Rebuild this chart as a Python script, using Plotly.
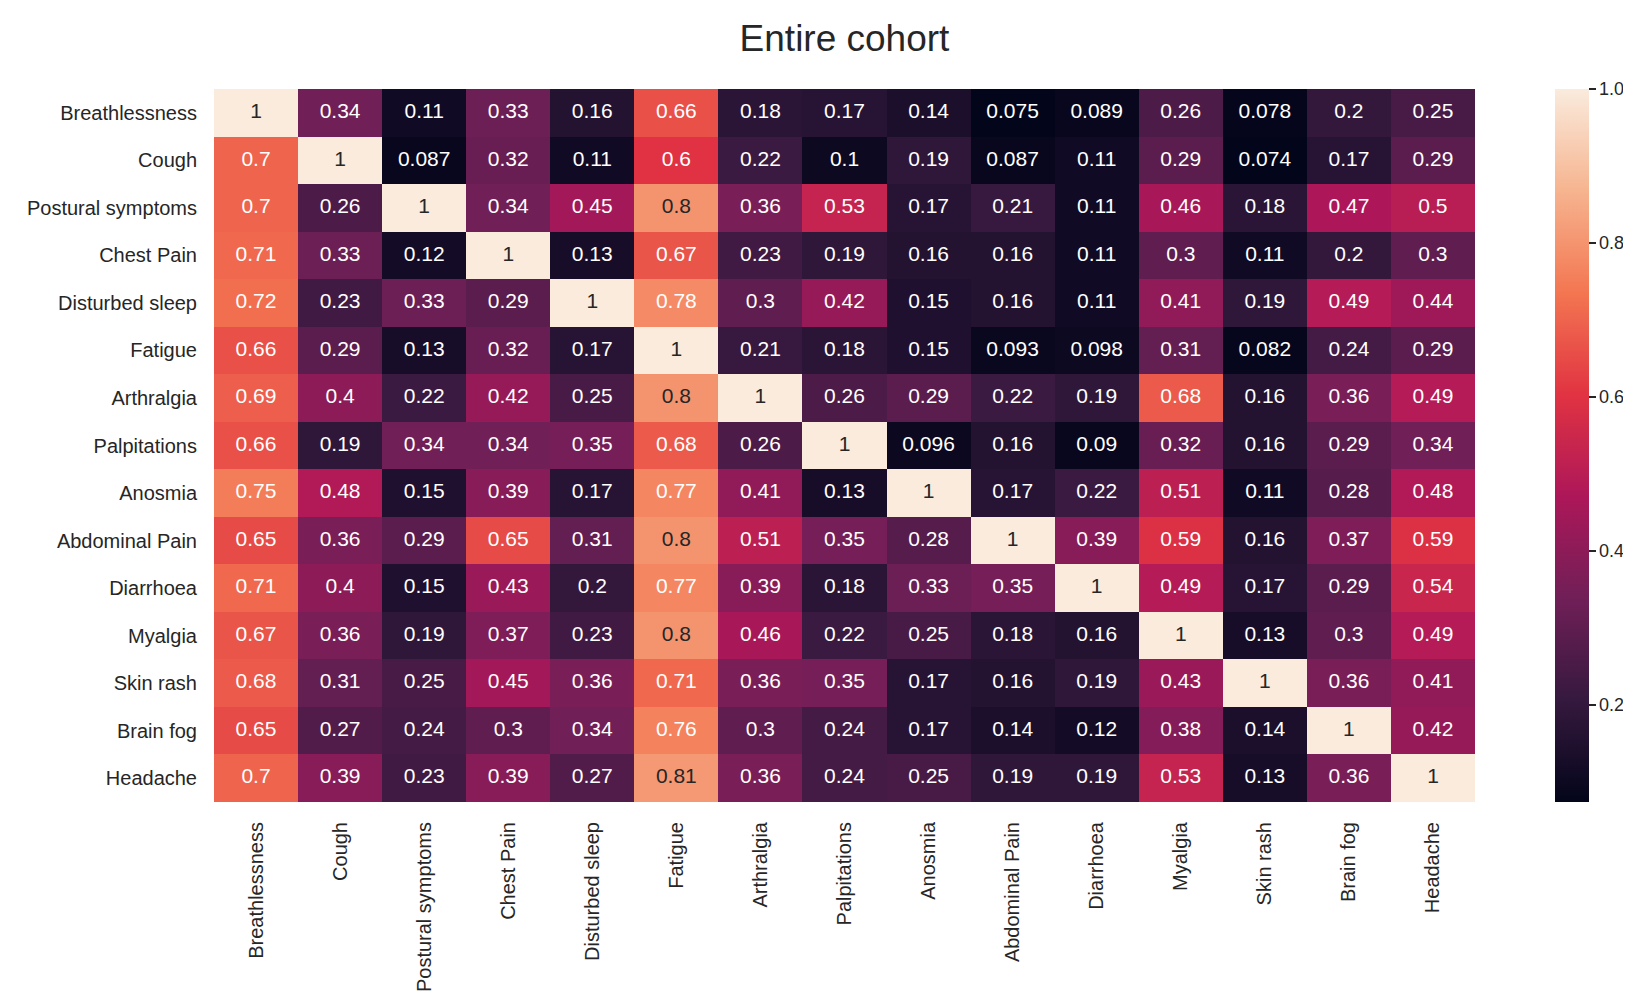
import plotly.graph_objects as go

symptoms = ["Breathlessness", "Cough", "Postural symptoms", "Chest Pain", "Disturbed sleep",
            "Fatigue", "Arthralgia", "Palpitations", "Anosmia", "Abdominal Pain",
            "Diarrhoea", "Myalgia", "Skin rash", "Brain fog", "Headache"]

r_breathlessness = [1, 0.34, 0.11, 0.33, 0.16, 0.66, 0.18, 0.17, 0.14, 0.075, 0.089, 0.26, 0.078, 0.2, 0.25]
r_cough = [0.7, 1, 0.087, 0.32, 0.11, 0.6, 0.22, 0.1, 0.19, 0.087, 0.11, 0.29, 0.074, 0.17, 0.29]
r_postural = [0.7, 0.26, 1, 0.34, 0.45, 0.8, 0.36, 0.53, 0.17, 0.21, 0.11, 0.46, 0.18, 0.47, 0.5]
r_chest = [0.71, 0.33, 0.12, 1, 0.13, 0.67, 0.23, 0.19, 0.16, 0.16, 0.11, 0.3, 0.11, 0.2, 0.3]
r_sleep = [0.72, 0.23, 0.33, 0.29, 1, 0.78, 0.3, 0.42, 0.15, 0.16, 0.11, 0.41, 0.19, 0.49, 0.44]
r_fatigue = [0.66, 0.29, 0.13, 0.32, 0.17, 1, 0.21, 0.18, 0.15, 0.093, 0.098, 0.31, 0.082, 0.24, 0.29]
r_arthralgia = [0.69, 0.4, 0.22, 0.42, 0.25, 0.8, 1, 0.26, 0.29, 0.22, 0.19, 0.68, 0.16, 0.36, 0.49]
r_palpitations = [0.66, 0.19, 0.34, 0.34, 0.35, 0.68, 0.26, 1, 0.096, 0.16, 0.09, 0.32, 0.16, 0.29, 0.34]
r_anosmia = [0.75, 0.48, 0.15, 0.39, 0.17, 0.77, 0.41, 0.13, 1, 0.17, 0.22, 0.51, 0.11, 0.28, 0.48]
r_abdominal = [0.65, 0.36, 0.29, 0.65, 0.31, 0.8, 0.51, 0.35, 0.28, 1, 0.39, 0.59, 0.16, 0.37, 0.59]
r_diarrhoea = [0.71, 0.4, 0.15, 0.43, 0.2, 0.77, 0.39, 0.18, 0.33, 0.35, 1, 0.49, 0.17, 0.29, 0.54]
r_myalgia = [0.67, 0.36, 0.19, 0.37, 0.23, 0.8, 0.46, 0.22, 0.25, 0.18, 0.16, 1, 0.13, 0.3, 0.49]
r_skin = [0.68, 0.31, 0.25, 0.45, 0.36, 0.71, 0.36, 0.35, 0.17, 0.16, 0.19, 0.43, 1, 0.36, 0.41]
r_brainfog = [0.65, 0.27, 0.24, 0.3, 0.34, 0.76, 0.3, 0.24, 0.17, 0.14, 0.12, 0.38, 0.14, 1, 0.42]
r_headache = [0.7, 0.39, 0.23, 0.39, 0.27, 0.81, 0.36, 0.24, 0.25, 0.19, 0.19, 0.53, 0.13, 0.36, 1]

z = [r_breathlessness, r_cough, r_postural, r_chest, r_sleep, r_fatigue, r_arthralgia,
     r_palpitations, r_anosmia, r_abdominal, r_diarrhoea, r_myalgia, r_skin, r_brainfog, r_headache]

colorbar_ticks = [0.2, 0.4, 0.6, 0.8, 1.0]

rocket = [
    [0.0, "#03051a"],
    [1 / 7, "#35193e"],
    [2 / 7, "#701f57"],
    [3 / 7, "#ad1759"],
    [4 / 7, "#e13342"],
    [5 / 7, "#f37651"],
    [6 / 7, "#f6b48f"],
    [1.0, "#faebdd"],
]

FONT = "Liberation Sans, Arial, sans-serif"
INK = "#262626"

zmin = min(min(r) for r in z)
zmax = 1.0

fig = go.Figure()
fig.add_trace(go.Heatmap(
    z=z, x=symptoms, y=symptoms, colorscale=rocket, zmin=zmin, zmax=zmax,
    xgap=0, ygap=0, hoverinfo="skip",
    colorbar=dict(
        thickness=34, len=1, lenmode="fraction", y=0.5, yanchor="middle",
        x=1.0634, xanchor="left", xpad=0, ypad=0, outlinewidth=0,
        tickvals=colorbar_ticks, ticktext=[f"{v:.1f}" for v in colorbar_ticks],
        ticks="outside", ticklen=7, tickwidth=1.5, tickcolor=INK,
        tickfont=dict(family=FONT, size=18, color=INK),
    ),
))

tx, ty, tt, tc = [], [], [], []
for i, row in enumerate(z):
    for j, v in enumerate(row):
        tx.append(symptoms[j])
        ty.append(symptoms[i])
        tt.append(f"{v:g}")
        tc.append(INK if v >= 0.79 else "#ffffff")

fig.add_trace(go.Scatter(
    x=tx, y=ty, mode="text", text=tt,
    textfont=dict(family=FONT, size=21, color=tc),
    hoverinfo="skip", showlegend=False,
))

fig.update_layout(
    width=1631, height=996,
    margin=dict(l=206, r=164, t=81, b=198),
    paper_bgcolor="white", plot_bgcolor="white",
    title=dict(text="Entire cohort", x=0.5, xanchor="center", xref="paper",
               y=1 - 30 / 996, yref="container", yanchor="middle",
               font=dict(family=FONT, size=37, color=INK)),
    font=dict(family=FONT, color=INK),
    showlegend=False,
)
fig.update_xaxes(type="category", tickangle=-90, ticks="", showgrid=False, zeroline=False,
                 showline=False, tickfont=dict(size=20, color=INK), ticklabelstandoff=15,
                 range=[-0.5, 14.5])
fig.update_yaxes(type="category", autorange=False, range=[14.5, -0.5], ticks="", showgrid=False,
                 zeroline=False, showline=False, tickfont=dict(size=20, color=INK),
                 ticklabelstandoff=16)

fig.write_html("out.html")
